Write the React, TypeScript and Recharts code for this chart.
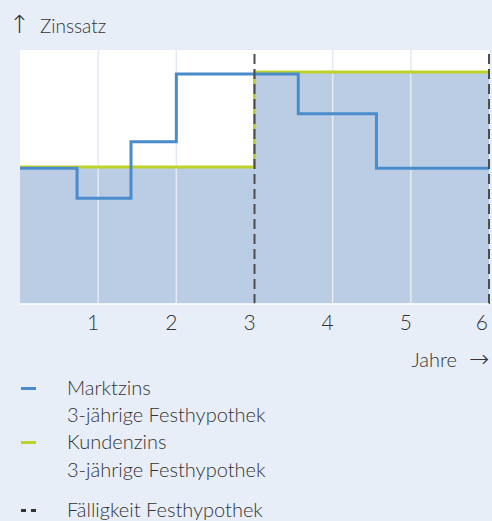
import {
  ComposedChart,
  Area,
  Line,
  XAxis,
  YAxis,
  ReferenceLine,
  CartesianGrid,
} from "recharts";

// step points (years) and rates, arbitrary rate units
const marketYears = [0, 0.73, 1.42, 2, 3.56, 4.56, 6];
const marketRate = [5.34, 4.16, 6.39, 9.06, 7.49, 5.34, 5.34];

const customerYears = [0, 3, 6];
const customerRate = [5.39, 9.13, 9.13];

const yearTicks = [1, 2, 3, 4, 5, 6];
const gridYears = [1, 2, 4, 5];
const maturityYears = [3, 6];

const legendItems = [
  { label: ["Marktzins", "3-jährige Festhypothek"], color: "#4a8ccb", dashed: false },
  { label: ["Kundenzins", "3-jährige Festhypothek"], color: "#bfd22b", dashed: false },
  { label: ["Fälligkeit Festhypothek"], color: "#333", dashed: true },
];

const marketData = marketYears.map((year, i) => ({ year, market: marketRate[i] }));
const customerData = customerYears.map((year, i) => ({ year, customer: customerRate[i] }));

const FONT = "Lato, 'Open Sans', sans-serif";
const ARROW_FONT = "'DejaVu Sans', sans-serif";
const BG = "#e8eef7";

const LegendMarker = ({ color, dashed }: { color: string; dashed: boolean }) => {
  const seg = (left: number, width: number) => (
    <div
      style={{
        position: "absolute",
        left,
        top: 13,
        width,
        height: 3,
        background: color,
      }}
    />
  );
  return (
    <div style={{ width: 46, height: 27.4, position: "relative", flex: "none" }}>
      {dashed ? (
        <>
          {seg(0, 5)}
          {seg(10, 5)}
        </>
      ) : (
        seg(0, 15)
      )}
    </div>
  );
};

export default function App() {
  return (
    <div
      style={{
        position: "relative",
        width: 492,
        height: 521,
        background: BG,
        fontFamily: FONT,
        fontWeight: 300,
        color: "#333",
      }}
    >
      <style>{"body{margin:0}"}</style>
      <div
        style={{
          position: "absolute",
          left: 9,
          top: 15,
          fontSize: 19,
          lineHeight: "19px",
          whiteSpace: "nowrap",
        }}
      >
        <span style={{ fontFamily: ARROW_FONT, fontWeight: 200, fontSize: 25 }}>↑</span>
        <span style={{ marginLeft: 10 }}>Zinssatz</span>
      </div>

      <ComposedChart
        width={492}
        height={521}
        margin={{ top: 50, right: 3, left: 20, bottom: 187 }}
      >
        <CartesianGrid fill="#ffffff" horizontal={false} vertical={false} />
        <XAxis
          dataKey="year"
          type="number"
          domain={[0, 6]}
          ticks={yearTicks}
          allowDuplicatedCategory={false}
          height={30}
          axisLine={{ stroke: "#ffffff", strokeWidth: 1.5 }}
          tickLine={false}
          tick={{
            fill: "#333",
            fontSize: 21,
            fontFamily: FONT,
            fontWeight: 300,
            dx: -5,
            dy: 3,
          }}
        />
        <YAxis type="number" domain={[0, 10]} hide />
        <Area
          data={customerData}
          dataKey="customer"
          type="stepAfter"
          stroke="none"
          fill="#bacde4"
          fillOpacity={1}
          isAnimationActive={false}
          dot={false}
          activeDot={false}
        />
        {gridYears.map((x) => (
          <ReferenceLine key={x} x={x} stroke="#e4ebf4" strokeWidth={1.5} />
        ))}
        <Line
          data={customerData}
          dataKey="customer"
          type="stepAfter"
          stroke="#bfd22b"
          strokeWidth={3}
          dot={false}
          activeDot={false}
          isAnimationActive={false}
        />
        <Line
          data={marketData}
          dataKey="market"
          type="stepAfter"
          stroke="#4a8ccb"
          strokeWidth={3}
          dot={false}
          activeDot={false}
          isAnimationActive={false}
        />
        {maturityYears.map((x) => (
          <ReferenceLine
            key={x}
            x={x}
            stroke="#4d4d4d"
            strokeWidth={2}
            strokeDasharray="10 5"
          />
        ))}
      </ComposedChart>

      <div
        style={{
          position: "absolute",
          right: 3,
          top: 349,
          fontSize: 20,
          lineHeight: "20px",
          whiteSpace: "nowrap",
        }}
      >
        Jahre
        <span
          style={{ fontFamily: ARROW_FONT, fontWeight: 200, fontSize: 24, marginLeft: 12 }}
        >
          →
        </span>
      </div>

      <div
        style={{
          position: "absolute",
          left: 21,
          top: 373.6,
          fontSize: 20,
          lineHeight: "27.4px",
        }}
      >
        {legendItems.map((item, i) => (
          <div
            key={i}
            style={{ display: "flex", alignItems: "flex-start", marginTop: i === 2 ? 12.6 : 0 }}
          >
            <LegendMarker color={item.color} dashed={item.dashed} />
            <div style={{ whiteSpace: "nowrap" }}>
              {item.label.map((l) => (
                <div key={l}>{l}</div>
              ))}
            </div>
          </div>
        ))}
      </div>
    </div>
  );
}
